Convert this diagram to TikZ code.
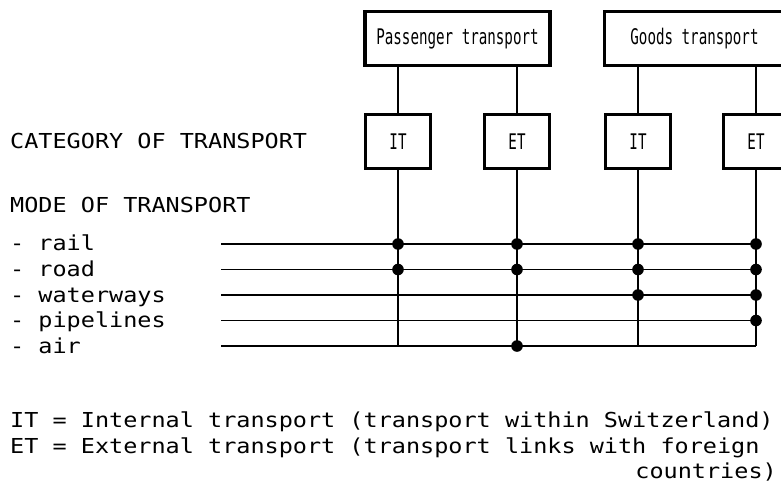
\documentclass[tikz,border=0pt]{standalone}
\usepackage{fontspec}
\newfontfamily\labelfont[FakeStretch=1.14]{DejaVu Sans Mono}
\newfontfamily\boxfont[FakeStretch=0.66]{DejaVu Sans Mono}
\begin{document}
\begin{tikzpicture}[x=1pt,y=-1pt,
  wire/.style={line width=1.9pt},
  frame/.style={draw, line width=3.5pt, inner sep=0pt,
    font=\boxfont\fontsize{21.5}{25}\selectfont},
  topbox/.style={frame, minimum height=54pt},
  catbox/.style={frame, minimum width=65pt, minimum height=54pt},
  lbl/.style={anchor=base west, inner sep=0pt,
    font=\labelfont\fontsize{20.6}{24}\selectfont},
  junction/.style={fill=black}]
\useasboundingbox (0,0) rectangle (781,495);
\clip (0,0) rectangle (781,495);

% main groups
\node[topbox, minimum width=185pt] (P) at (457.5,38.5) {Passenger transport};
\node[topbox, minimum width=180pt] (G) at (694.5,38.5) {Goods transport};

% categories
\node[catbox] (it1) at (398,141.5) {IT};
\node[catbox] (et1) at (517,141.5) {ET};
\node[catbox] (it2) at (638,141.5) {IT};
\node[catbox] (et2) at (756,141.5) {ET};

\draw[wire] (P.south -| it1) -- (it1.north);
\draw[wire] (P.south -| et1) -- (et1.north);
\draw[wire] (G.south -| it2) -- (it2.north);
\draw[wire] (G.south -| et2) -- (et2.north);

% left-hand labels
\node[lbl] (cat) at (10,148) {CATEGORY OF TRANSPORT};
\node[lbl] (mode) at (10,212) {MODE OF TRANSPORT};
\node[lbl] (lrail) at (10,250) {- rail};
\node[lbl] (lroad) at (10,276) {- road};
\node[lbl] (lwaterways) at (10,302) {- waterways};
\node[lbl] (lpipelines) at (10,327.5) {- pipelines};
\node[lbl] (lair) at (10,353) {- air};

% mode lines
\coordinate (mrail) at (221,244);
\coordinate (mroad) at (221,269.5);
\coordinate (mwaterways) at (221,295);
\coordinate (mpipelines) at (221,320.5);
\coordinate (mair) at (221,346);
\foreach \m in {rail,road,waterways,pipelines,air}
  \draw[wire] (m\m) -- (m\m -| et2);
\foreach \c in {it1,et1,it2,et2}
  \draw[wire] (\c.south) -- (\c |- mair);

% junctions
\foreach \c/\m in {it1/rail,et1/rail,it2/rail,et2/rail,
                   it1/road,et1/road,it2/road,et2/road,
                   it2/waterways,et2/waterways,
                   et2/pipelines,
                   et1/air}
  \fill[junction] (\c |- m\m) circle[radius=5.8pt];

% key
\node[lbl] (keyit) at (10,427) {IT = Internal transport (transport within Switzerland)};
\node[lbl] (keyet) at (10,453) {ET = External transport (transport links with foreign};
\node[lbl, anchor=base east] (keyet2) at (777,478) {countries)};
\end{tikzpicture}
\end{document}
